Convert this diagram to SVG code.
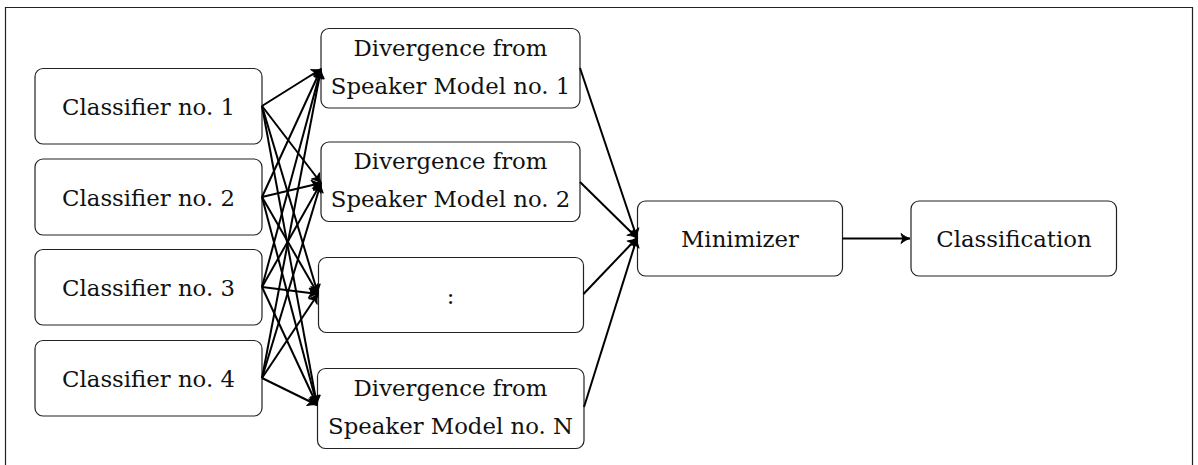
<svg xmlns="http://www.w3.org/2000/svg" width="1198" height="465" viewBox="0 0 1198 465">
<style>
.box{fill:#fff;stroke:#222;stroke-width:1.2}
.t{font-family:'DejaVu Serif', serif;font-size:22.8px;fill:#111;text-anchor:middle}
.c line{stroke:#000;stroke-width:2;marker-end:url(#ah)}
</style>
<defs>
<marker id="ah" markerUnits="userSpaceOnUse" markerWidth="14" markerHeight="12" viewBox="-10 -6 11 12" refX="0" refY="0" orient="auto" overflow="visible">
<path d="M-9,-5 C-6,-2.4 -2.5,-0.7 0,0 C-2.5,0.7 -6,2.4 -9,5 L-7,0 Z" fill="#000" stroke="#000" stroke-width="1" stroke-linejoin="round"/>
</marker>
</defs>
<rect width="1198" height="465" fill="#fff"/>
<path d="M5.5,465 V7.5 H1192.5 V465" fill="none" stroke="#222" stroke-width="1.2"/>

<g id="c1"><rect class="box" x="35" y="68.5" width="227" height="75.5" rx="8"/><text class="t" x="148.5" y="115">Classifier no. 1</text></g>
<g id="c2"><rect class="box" x="35" y="159" width="227" height="76" rx="8"/><text class="t" x="148.5" y="206">Classifier no. 2</text></g>
<g id="c3"><rect class="box" x="35" y="249.5" width="227" height="75.5" rx="8"/><text class="t" x="148.5" y="296">Classifier no. 3</text></g>
<g id="c4"><rect class="box" x="35" y="340.5" width="227" height="75.5" rx="8"/><text class="t" x="148.5" y="387">Classifier no. 4</text></g>

<g id="d1"><rect class="box" x="321" y="28.5" width="259" height="79.5" rx="8"/><text class="t" x="450.5" y="56">Divergence from</text><text class="t" x="450.5" y="93.5">Speaker Model no. 1</text></g>
<g id="d2"><rect class="box" x="321" y="142" width="259" height="79.5" rx="8"/><text class="t" x="450.5" y="168.5">Divergence from</text><text class="t" x="450.5" y="206.5">Speaker Model no. 2</text></g>
<g id="d3"><rect class="box" x="318.5" y="257.5" width="265" height="75" rx="8"/><text class="t" x="450.5" y="304">:</text></g>
<g id="dN"><rect class="box" x="317.5" y="368.5" width="266.5" height="80" rx="8"/><text class="t" x="450.5" y="396">Divergence from</text><text class="t" x="450.5" y="433.5">Speaker Model no. N</text></g>

<g id="min"><rect class="box" x="637.5" y="201" width="205" height="75" rx="8"/><text class="t" x="740" y="247">Minimizer</text></g>
<g id="cls"><rect class="box" x="911" y="201" width="205.5" height="75" rx="8"/><text class="t" x="1014" y="247">Classification</text></g>

<g id="connectors" class="c">
<line x1="262" y1="106" x2="321" y2="69"/>
<line x1="262" y1="106" x2="321" y2="183"/>
<line x1="262" y1="106" x2="318" y2="294"/>
<line x1="262" y1="106" x2="317" y2="405"/>
<line x1="262" y1="197" x2="321" y2="69"/>
<line x1="262" y1="197" x2="321" y2="183"/>
<line x1="262" y1="197" x2="318" y2="294"/>
<line x1="262" y1="197" x2="317" y2="405"/>
<line x1="262" y1="287" x2="321" y2="69"/>
<line x1="262" y1="287" x2="321" y2="183"/>
<line x1="262" y1="287" x2="318" y2="294"/>
<line x1="262" y1="287" x2="317" y2="405"/>
<line x1="262" y1="378" x2="321" y2="69"/>
<line x1="262" y1="378" x2="321" y2="183"/>
<line x1="262" y1="378" x2="318" y2="294"/>
<line x1="262" y1="378" x2="317" y2="405"/>
<line x1="580" y1="68" x2="637" y2="238"/>
<line x1="580" y1="182" x2="637" y2="238"/>
<line x1="583.5" y1="294" x2="637" y2="238"/>
<line x1="584" y1="407" x2="637" y2="238"/>
<line x1="842.5" y1="238.5" x2="910" y2="238.5"/>
</g>
</svg>
